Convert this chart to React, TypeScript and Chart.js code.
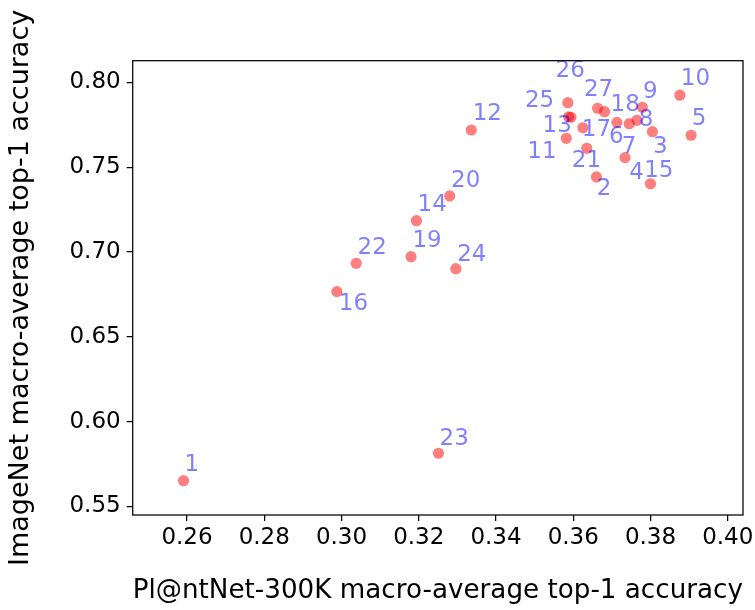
import React, { useEffect, useRef } from 'react';
import { Chart, registerables } from 'chart.js';

Chart.register(...registerables);

// Model ids (annotation text)
const modelLabels = [
  '1', '2', '3', '4', '5', '6', '7', '8', '9', '10',
  '11', '12', '13', '14', '15', '16', '17', '18', '19', '20',
  '21', '22', '23', '24', '25', '26', '27',
];

// Pl@ntNet-300K macro-average top-1 accuracy (x)
const plantnetAcc = [
  0.2591, 0.3660, 0.3805, 0.3681, 0.3905, 0.3713, 0.3734, 0.3765, 0.3779, 0.3876,
  0.3582, 0.3336, 0.3594, 0.3194, 0.3800, 0.2988, 0.3625, 0.3745, 0.3180, 0.3280,
  0.3635, 0.3038, 0.3251, 0.3296, 0.3588, 0.3586, 0.3663,
];

// ImageNet macro-average top-1 accuracy (y)
const imagenetAcc = [
  0.5652, 0.7443, 0.7710, 0.7828, 0.7689, 0.7765, 0.7557, 0.7777, 0.7854, 0.7925,
  0.7671, 0.7720, 0.7795, 0.7185, 0.7403, 0.6767, 0.7733, 0.7757, 0.6973, 0.7331,
  0.7612, 0.6934, 0.5814, 0.6902, 0.7798, 0.7881, 0.7848,
];

const xTicks = [0.26, 0.28, 0.30, 0.32, 0.34, 0.36, 0.38, 0.40];
const yTicks = [0.55, 0.60, 0.65, 0.70, 0.75, 0.80];

// Annotation text offsets from each point (pixels)
const labelOffsets: [number, number][] = [
  [8.4, -15.7], [7.7, 12], [8, 15.6], [32, 61.6], [8, -16.3], [-0.7, 14.4], [4, -10.4], [9, -0.3], [8, -15], [15.6, -16.3],
  [-24.3, 14], [16, -16], [-13.7, 8.4], [15.7, -15.7], [8.3, -13], [16.6, 12.3], [13.6, 2.3], [-4, -18.7], [16, -16], [16, -15.3],
  [-0.3, 12.4], [16, -15], [15.7, -14.3], [16, -13.7], [-29, -16], [2.3, -32], [1, -18.3],
];

const FONT = 'DejaVu Sans';

export default function App() {
  const ref = useRef<HTMLCanvasElement>(null);

  useEffect(() => {
    if (!ref.current) return;

    const pointLabels = {
      id: 'pointLabels',
      afterDatasetsDraw(chart: any) {
        const ctx = chart.ctx;
        const meta = chart.getDatasetMeta(0);
        ctx.save();
        ctx.font = `23px "${FONT}"`;
        ctx.fillStyle = 'rgba(0,0,255,0.5)';
        ctx.textAlign = 'center';
        ctx.textBaseline = 'middle';
        meta.data.forEach((el: any, i: number) => {
          const [dx, dy] = labelOffsets[i];
          ctx.fillText(modelLabels[i], el.x + dx, el.y + dy);
        });
        ctx.restore();
      },
    };

    const frame = {
      id: 'frame',
      afterDraw(chart: any) {
        const { ctx, chartArea: a } = chart;
        ctx.save();
        ctx.strokeStyle = '#000';
        ctx.lineWidth = 1.25;
        ctx.strokeRect(a.left, a.top, a.right - a.left, a.bottom - a.top);
        ctx.restore();
      },
    };

    const chart = new Chart(ref.current, {
      type: 'scatter',
      data: {
        datasets: [
          {
            data: plantnetAcc.map((x, i) => ({ x, y: imagenetAcc[i] })),
            backgroundColor: 'rgba(255,0,0,0.5)',
            borderWidth: 0,
            pointRadius: 5.6,
            pointHoverRadius: 5.6,
          },
        ],
      },
      options: {
        animation: false,
        responsive: true,
        maintainAspectRatio: false,
        events: [],
        layout: { padding: { top: 60.7, right: 12, left: 0, bottom: 0 } },
        plugins: { legend: { display: false }, tooltip: { enabled: false } },
        scales: {
          x: {
            type: 'linear',
            min: 0.24594,
            max: 0.40395,
            afterBuildTicks: (s: any) => {
              s.ticks = xTicks.map((v) => ({ value: v }));
            },
            afterFit: (s: any) => {
              s.height = 95;
              s.paddingLeft = 0;
              s.paddingRight = 0;
            },
            grid: {
              display: true,
              drawOnChartArea: false,
              drawTicks: true,
              tickLength: 6,
              color: '#000',
              lineWidth: 1.25,
            },
            border: { display: false },
            ticks: {
              color: '#000',
              font: { family: FONT, size: 23 },
              padding: 3,
              maxRotation: 0,
              autoSkip: false,
              callback: (v: any) => Number(v).toFixed(2),
            },
            title: {
              display: true,
              text: 'Pl@ntNet-300K macro-average top-1 accuracy',
              color: '#000',
              font: { family: FONT, size: 27 },
              padding: { top: 0, bottom: 3 },
            },
          },
          y: {
            type: 'linear',
            min: 0.54499,
            max: 0.81285,
            afterBuildTicks: (s: any) => {
              s.ticks = yTicks.map((v) => ({ value: v }));
            },
            afterFit: (s: any) => {
              s.width = 132.7;
              s.paddingTop = 0;
              s.paddingBottom = 0;
            },
            grid: {
              display: true,
              drawOnChartArea: false,
              drawTicks: true,
              tickLength: 6,
              color: '#000',
              lineWidth: 1.25,
            },
            border: { display: false },
            ticks: {
              color: '#000',
              font: { family: FONT, size: 23 },
              padding: 6,
              autoSkip: false,
              callback: (v: any) => Number(v).toFixed(2),
            },
            title: {
              display: true,
              text: 'ImageNet macro-average top-1 accuracy',
              color: '#000',
              font: { family: FONT, size: 27 },
              padding: { top: 5, bottom: 0 },
            },
          },
        },
      },
      plugins: [pointLabels, frame],
    });

    return () => chart.destroy();
  }, []);

  return (
    <div style={{ position: 'absolute', left: 0, top: 0, width: 755, height: 610, background: '#fff' }}>
      <canvas ref={ref} />
    </div>
  );
}
